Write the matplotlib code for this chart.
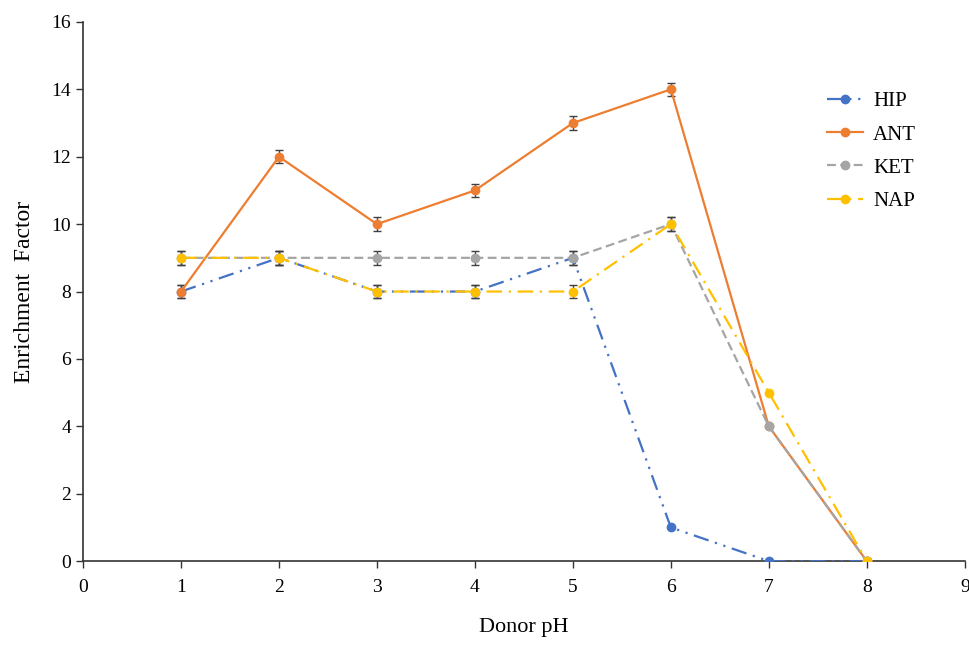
import numpy as np
import matplotlib.pyplot as plt

plt.rcParams['font.family'] = ['Liberation Serif', 'DejaVu Serif']

ph = [1, 2, 3, 4, 5, 6, 7, 8]
hip = [8, 9, 8, 8, 9, 1, 0, 0]
ant = [8, 12, 10, 11, 13, 14, 4, 0]
ket = [9, 9, 9, 9, 9, 10, 4, 0]
nap = [9, 9, 8, 8, 8, 10, 5, 0]
err = 0.2

fig = plt.figure(figsize=(9.7, 6.45), dpi=100)
ax = fig.add_axes([0.0856, 0.130, 0.909, 0.836])

series = [
    ("HIP", hip, "#4472C4", (0, (7, 3, 1, 3, 1, 3)), 5),
    ("ANT", ant, "#ED7D31", "-", 6),
    ("KET", ket, "#A5A5A5", (0, (4, 2)), 6),
    ("NAP", nap, "#FFC000", (0, (7, 3, 1, 3)), 6),
]

for name, vals, color, ls, nerr in series:
    ax.errorbar(ph[:nerr], vals[:nerr], yerr=err, fmt="none", ecolor="#404040",
                elinewidth=1, capsize=3, capthick=1, zorder=2)
    ax.plot(ph, vals, color=color, linestyle=ls, linewidth=1.6, marker="o",
            markersize=6, label=name, zorder=3)

ax.set_xlim(0, 9)
ax.set_ylim(0, 16)
ax.set_xticks(range(0, 10))
ax.set_yticks(range(0, 17, 2))
ax.spines["top"].set_visible(False)
ax.spines["right"].set_visible(False)
for s in ("left", "bottom"):
    ax.spines[s].set_color("#333333")
    ax.spines[s].set_linewidth(1.2)
ax.tick_params(axis="both", direction="out", length=5, width=1, labelsize=14,
               colors="#333333", labelcolor="black")
ax.tick_params(axis="x", pad=8)

ax.set_xlabel("Donor pH", fontsize=16, labelpad=16)
ax.set_ylabel("Enrichment  Factor", fontsize=17, labelpad=12)

ax.legend(loc="upper left", bbox_to_anchor=(0.823, 0.905), frameon=False,
          fontsize=15, handlelength=1.7, handletextpad=0.5, labelspacing=0.65)

fig.savefig("out.png", dpi=100)
